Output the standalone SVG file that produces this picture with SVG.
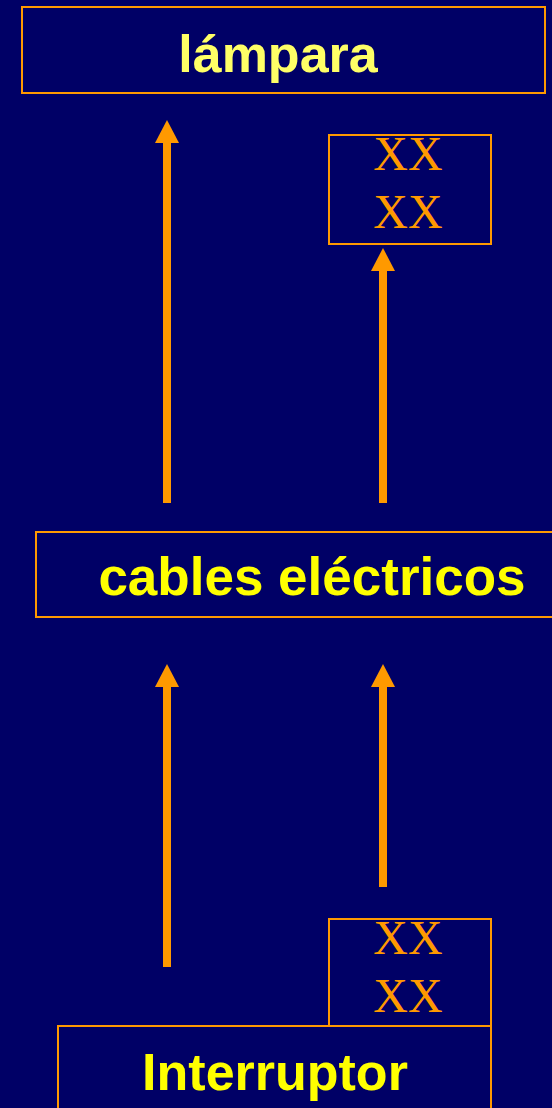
<svg xmlns="http://www.w3.org/2000/svg" width="552" height="1108" viewBox="0 0 552 1108">
  <style>
    .box { fill: #000066; stroke: #FF9900; stroke-width: 2; }
    .lbl { font-family: "Liberation Sans", Arial, sans-serif; font-weight: bold; font-size: 52px; fill: #FFFF00; text-anchor: middle; }
    .xx { font-family: "Liberation Serif", "Times New Roman", serif; font-size: 48px; fill: #FF9900; text-anchor: middle; }
    .arrow { stroke: #FF9900; stroke-width: 8; fill: none; }
  </style>
  <defs>
    <marker id="head" markerUnits="userSpaceOnUse" viewBox="0 0 23 24" refX="0" refY="12" markerWidth="23" markerHeight="24" orient="auto">
      <path d="M0,0 L23,12 L0,24 Z" fill="#FF9900"/>
    </marker>
  </defs>
  <rect x="0" y="0" width="552" height="1108" fill="#000066"/>

  <g id="lampara">
    <rect class="box" x="22" y="7" width="523" height="86"/>
    <text class="lbl" x="278" y="72" style="fill:#FFFF66">lámpara</text>
  </g>

  <g id="xx-top">
    <rect class="box" x="329" y="135" width="162" height="109"/>
    <text class="xx" x="408" y="170">XX</text>
    <text class="xx" x="408" y="228">XX</text>
  </g>

  <g id="cables">
    <rect class="box" x="36" y="532" width="530" height="85"/>
    <text class="lbl" x="312" y="595" style="font-size:53px">cables eléctricos</text>
  </g>

  <g id="xx-bottom">
    <rect class="box" x="329" y="919" width="162" height="108"/>
    <text class="xx" x="408" y="954">XX</text>
    <text class="xx" x="408" y="1012">XX</text>
  </g>

  <g id="interruptor">
    <rect class="box" x="58" y="1026" width="433" height="90"/>
    <text class="lbl" x="275" y="1090">Interruptor</text>
  </g>

  <g id="connectors">
    <line class="arrow" x1="167" y1="503" x2="167" y2="143" marker-end="url(#head)"/>
    <line class="arrow" x1="383" y1="503" x2="383" y2="271" marker-end="url(#head)"/>
    <line class="arrow" x1="167" y1="967" x2="167" y2="687" marker-end="url(#head)"/>
    <line class="arrow" x1="383" y1="887" x2="383" y2="687" marker-end="url(#head)"/>
  </g>
</svg>
